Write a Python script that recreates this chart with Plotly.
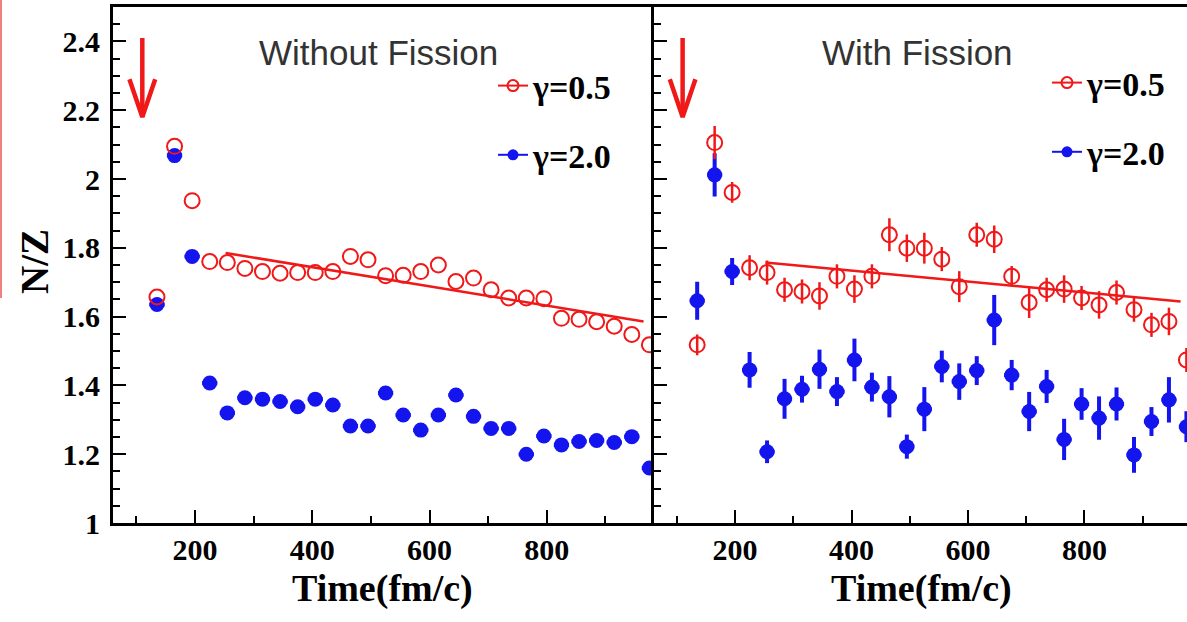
import plotly.graph_objects as go

# ---------------- data ----------------
time = [135, 165, 195, 225, 255, 285, 315, 345, 375, 405, 435, 465, 495, 525, 555,
        585, 615, 645, 675, 705, 735, 765, 795, 825, 855, 885, 915, 945, 975]

# Without fission
red_left = [1.657, 2.095, 1.937, 1.760, 1.757, 1.740, 1.731, 1.726, 1.728, 1.728,
            1.731, 1.775, 1.765, 1.719, 1.720, 1.731, 1.750, 1.702, 1.712, 1.678,
            1.654, 1.654, 1.652, 1.595, 1.592, 1.585, 1.572, 1.548, 1.518]
blue_left = [1.635, 2.068, 1.775, 1.407, 1.320, 1.364, 1.360, 1.353, 1.338, 1.360,
             1.343, 1.282, 1.282, 1.378, 1.314, 1.270, 1.314, 1.372, 1.310, 1.275,
             1.275, 1.200, 1.253, 1.227, 1.237, 1.240, 1.234, 1.251, 1.160]

# With fission
red_right = [1.518, 2.106, 1.961, 1.742, 1.728, 1.678, 1.673, 1.660, 1.717, 1.680,
             1.717, 1.838, 1.799, 1.799, 1.767, 1.687, 1.838, 1.825, 1.717, 1.641,
             1.678, 1.680, 1.654, 1.634, 1.670, 1.620, 1.576, 1.586, 1.474]
red_right_err = [0.030, 0.048, 0.030, 0.036, 0.035, 0.035, 0.035, 0.040, 0.035, 0.040,
                 0.035, 0.048, 0.040, 0.045, 0.035, 0.045, 0.035, 0.040, 0.030, 0.045,
                 0.035, 0.040, 0.035, 0.040, 0.035, 0.035, 0.035, 0.040, 0.035]
blue_right = [1.646, 2.012, 1.731, 1.445, 1.207, 1.361, 1.389, 1.447, 1.382, 1.474,
              1.395, 1.367, 1.222, 1.331, 1.455, 1.411, 1.443, 1.590, 1.430, 1.324,
              1.397, 1.243, 1.346, 1.305, 1.346, 1.198, 1.295, 1.358, 1.280]
blue_right_err = [0.055, 0.063, 0.039, 0.052, 0.033, 0.058, 0.039, 0.057, 0.042, 0.062,
                  0.042, 0.060, 0.035, 0.064, 0.046, 0.053, 0.042, 0.073, 0.044, 0.057,
                  0.048, 0.060, 0.046, 0.063, 0.048, 0.052, 0.042, 0.066, 0.045]

# linear fits to gamma=0.5 (end points)
fit_t = [252, 965]
fit_left = [1.785, 1.586]
fit_right = [1.757, 1.644]

# arrows marking the start time
ARROW_T = 110
ARROW_TOP = 2.41
ARROW_TIP = 2.18
ARROW_HEAD_DT = 22
ARROW_HEAD_DY = 0.11

legend_names = ["\u03b3=0.5", "\u03b3=2.0"]
panel_titles = ["Without Fission", "With Fission"]

RED = "#f01818"
BLUE = "#1414ee"
SERIF = "Liberation Serif"
SANS = "Liberation Sans"

W, H = 1187, 622
L, R, T, B = 113, 0, 7, 99
PW = W - L - R
PH = H - T - B
SPLIT = 540.5 / PW


def px(xp):
    return (xp - L) / PW


def py(yp):
    return (H - B - yp) / PH


fig = go.Figure()


def add_panel(xa, ya, red, blue, red_err, blue_err, fit, legend):
    fig.add_trace(go.Scatter(
        x=fit_t, y=fit, mode="lines", line=dict(color=RED, width=2.5),
        xaxis=xa, yaxis=ya, showlegend=False, hoverinfo="skip"))
    fig.add_trace(go.Scatter(
        x=time, y=blue, mode="markers", xaxis=xa, yaxis=ya, showlegend=False,
        marker=dict(symbol="circle", size=15, color=BLUE),
        error_y=dict(type="data", array=blue_err, color=BLUE, thickness=4, width=0),
        error_x=dict(type="constant", value=13, color=BLUE, thickness=4, width=0)))
    ey = dict(type="data", array=red_err, color=RED, thickness=2.5, width=0) if red_err else None
    fig.add_trace(go.Scatter(
        x=time, y=red, mode="markers", xaxis=xa, yaxis=ya, showlegend=False,
        marker=dict(symbol="circle-open", size=15, color=RED, line=dict(width=2)),
        error_y=ey))
    # arrow
    fig.add_trace(go.Scatter(
        x=[ARROW_T, ARROW_T, None, ARROW_T - ARROW_HEAD_DT, ARROW_T, ARROW_T + ARROW_HEAD_DT],
        y=[ARROW_TOP, ARROW_TIP, None, ARROW_TIP + ARROW_HEAD_DY, ARROW_TIP, ARROW_TIP + ARROW_HEAD_DY],
        mode="lines", line=dict(color=RED, width=4.5), xaxis=xa, yaxis=ya,
        showlegend=False, hoverinfo="skip"))
    # legend entries
    fig.add_trace(go.Scatter(
        x=[None], y=[None], mode="lines+markers", name=legend_names[0],
        xaxis=xa, yaxis=ya, legend=legend, legendgroup=legend + "a",
        line=dict(color=RED, width=2),
        marker=dict(symbol="circle-open", size=11, color=RED, line=dict(width=2))))
    fig.add_trace(go.Scatter(
        x=[None], y=[None], mode="lines+markers", name=legend_names[1],
        xaxis=xa, yaxis=ya, legend=legend, legendgroup=legend + "b",
        line=dict(color=BLUE, width=2),
        marker=dict(symbol="circle", size=11, color=BLUE)))


add_panel("x", "y", red_left, blue_left, None,
          [0.012] * len(time), fit_left, "legend")
add_panel("x2", "y2", red_right, blue_right, red_right_err,
          blue_right_err, fit_right, "legend2")

tickfont = dict(family=SERIF, size=30, color="black", weight="bold")
common_x = dict(showline=True, linewidth=3, linecolor="black", mirror=True,
                ticks="inside", ticklen=13, tickwidth=2, tickcolor="black",
                tick0=0, dtick=200, showgrid=False, zeroline=False,
                tickfont=tickfont, ticklabelstandoff=-2,
                minor=dict(ticks="inside", ticklen=7, tickwidth=2, tickcolor="black",
                           tick0=0, dtick=100, showgrid=False))
common_y = dict(showline=True, linewidth=3, linecolor="black", mirror=False,
                ticks="inside", ticklen=13, tickwidth=2, tickcolor="black",
                range=[1, 2.5], tick0=1, dtick=0.2, showgrid=False, zeroline=False,
                tickfont=tickfont,
                minor=dict(ticks="inside", ticklen=7, tickwidth=2, tickcolor="black",
                           tick0=1, dtick=0.05, showgrid=False))

legend_common = dict(font=dict(family=SERIF, size=34, color="black", weight="bold"),
                     bgcolor="rgba(0,0,0,0)", borderwidth=0, tracegroupgap=22,
                     itemwidth=30, xanchor="left", yanchor="top")

fig.update_layout(
    width=W, height=H, autosize=False,
    margin=dict(l=L, r=R, t=T, b=B, pad=0),
    paper_bgcolor="white", plot_bgcolor="white",
    xaxis=dict(domain=[0, SPLIT], range=[60, 982], anchor="y", **common_x),
    yaxis=dict(domain=[0, 1], anchor="x", ticklabelstandoff=4, **common_y),
    xaxis2=dict(domain=[SPLIT, 1], range=[60, 976], anchor="y2", **common_x),
    yaxis2=dict(domain=[0, 1], anchor="x2", showticklabels=False, **common_y),
    legend=dict(x=px(493), y=py(57), **legend_common),
    legend2=dict(x=px(1047), y=py(54), **legend_common),
    showlegend=True,
)

ann = []
for title, cx in zip(panel_titles, [378, 917]):
    ann.append(dict(text=title, x=px(cx), y=py(52), xanchor="center", yanchor="middle",
                    xref="paper", yref="paper", showarrow=False,
                    font=dict(family=SANS, size=35, color="#333333")))
for cx in [382, 921]:
    ann.append(dict(text="Time(fm/c)", x=px(cx), y=py(588), xanchor="center", yanchor="middle",
                    xref="paper", yref="paper", showarrow=False,
                    font=dict(family=SERIF, size=38, color="black", weight="bold")))
ann.append(dict(text="N/Z", x=px(34), y=py(262), textangle=-90, xanchor="center", yanchor="middle",
                xref="paper", yref="paper", showarrow=False,
                font=dict(family=SERIF, size=39, color="black", weight="bold")))
fig.update_layout(annotations=ann)

# faint red edge line at the far left of the picture
fig.add_shape(type="line", xref="paper", yref="paper",
              x0=px(1), x1=px(1), y0=py(0), y1=py(298),
              line=dict(color="#f08080", width=2))

fig.write_html("out.html", config={"displayModeBar": False},
               post_script="document.body.style.margin='0px';")
